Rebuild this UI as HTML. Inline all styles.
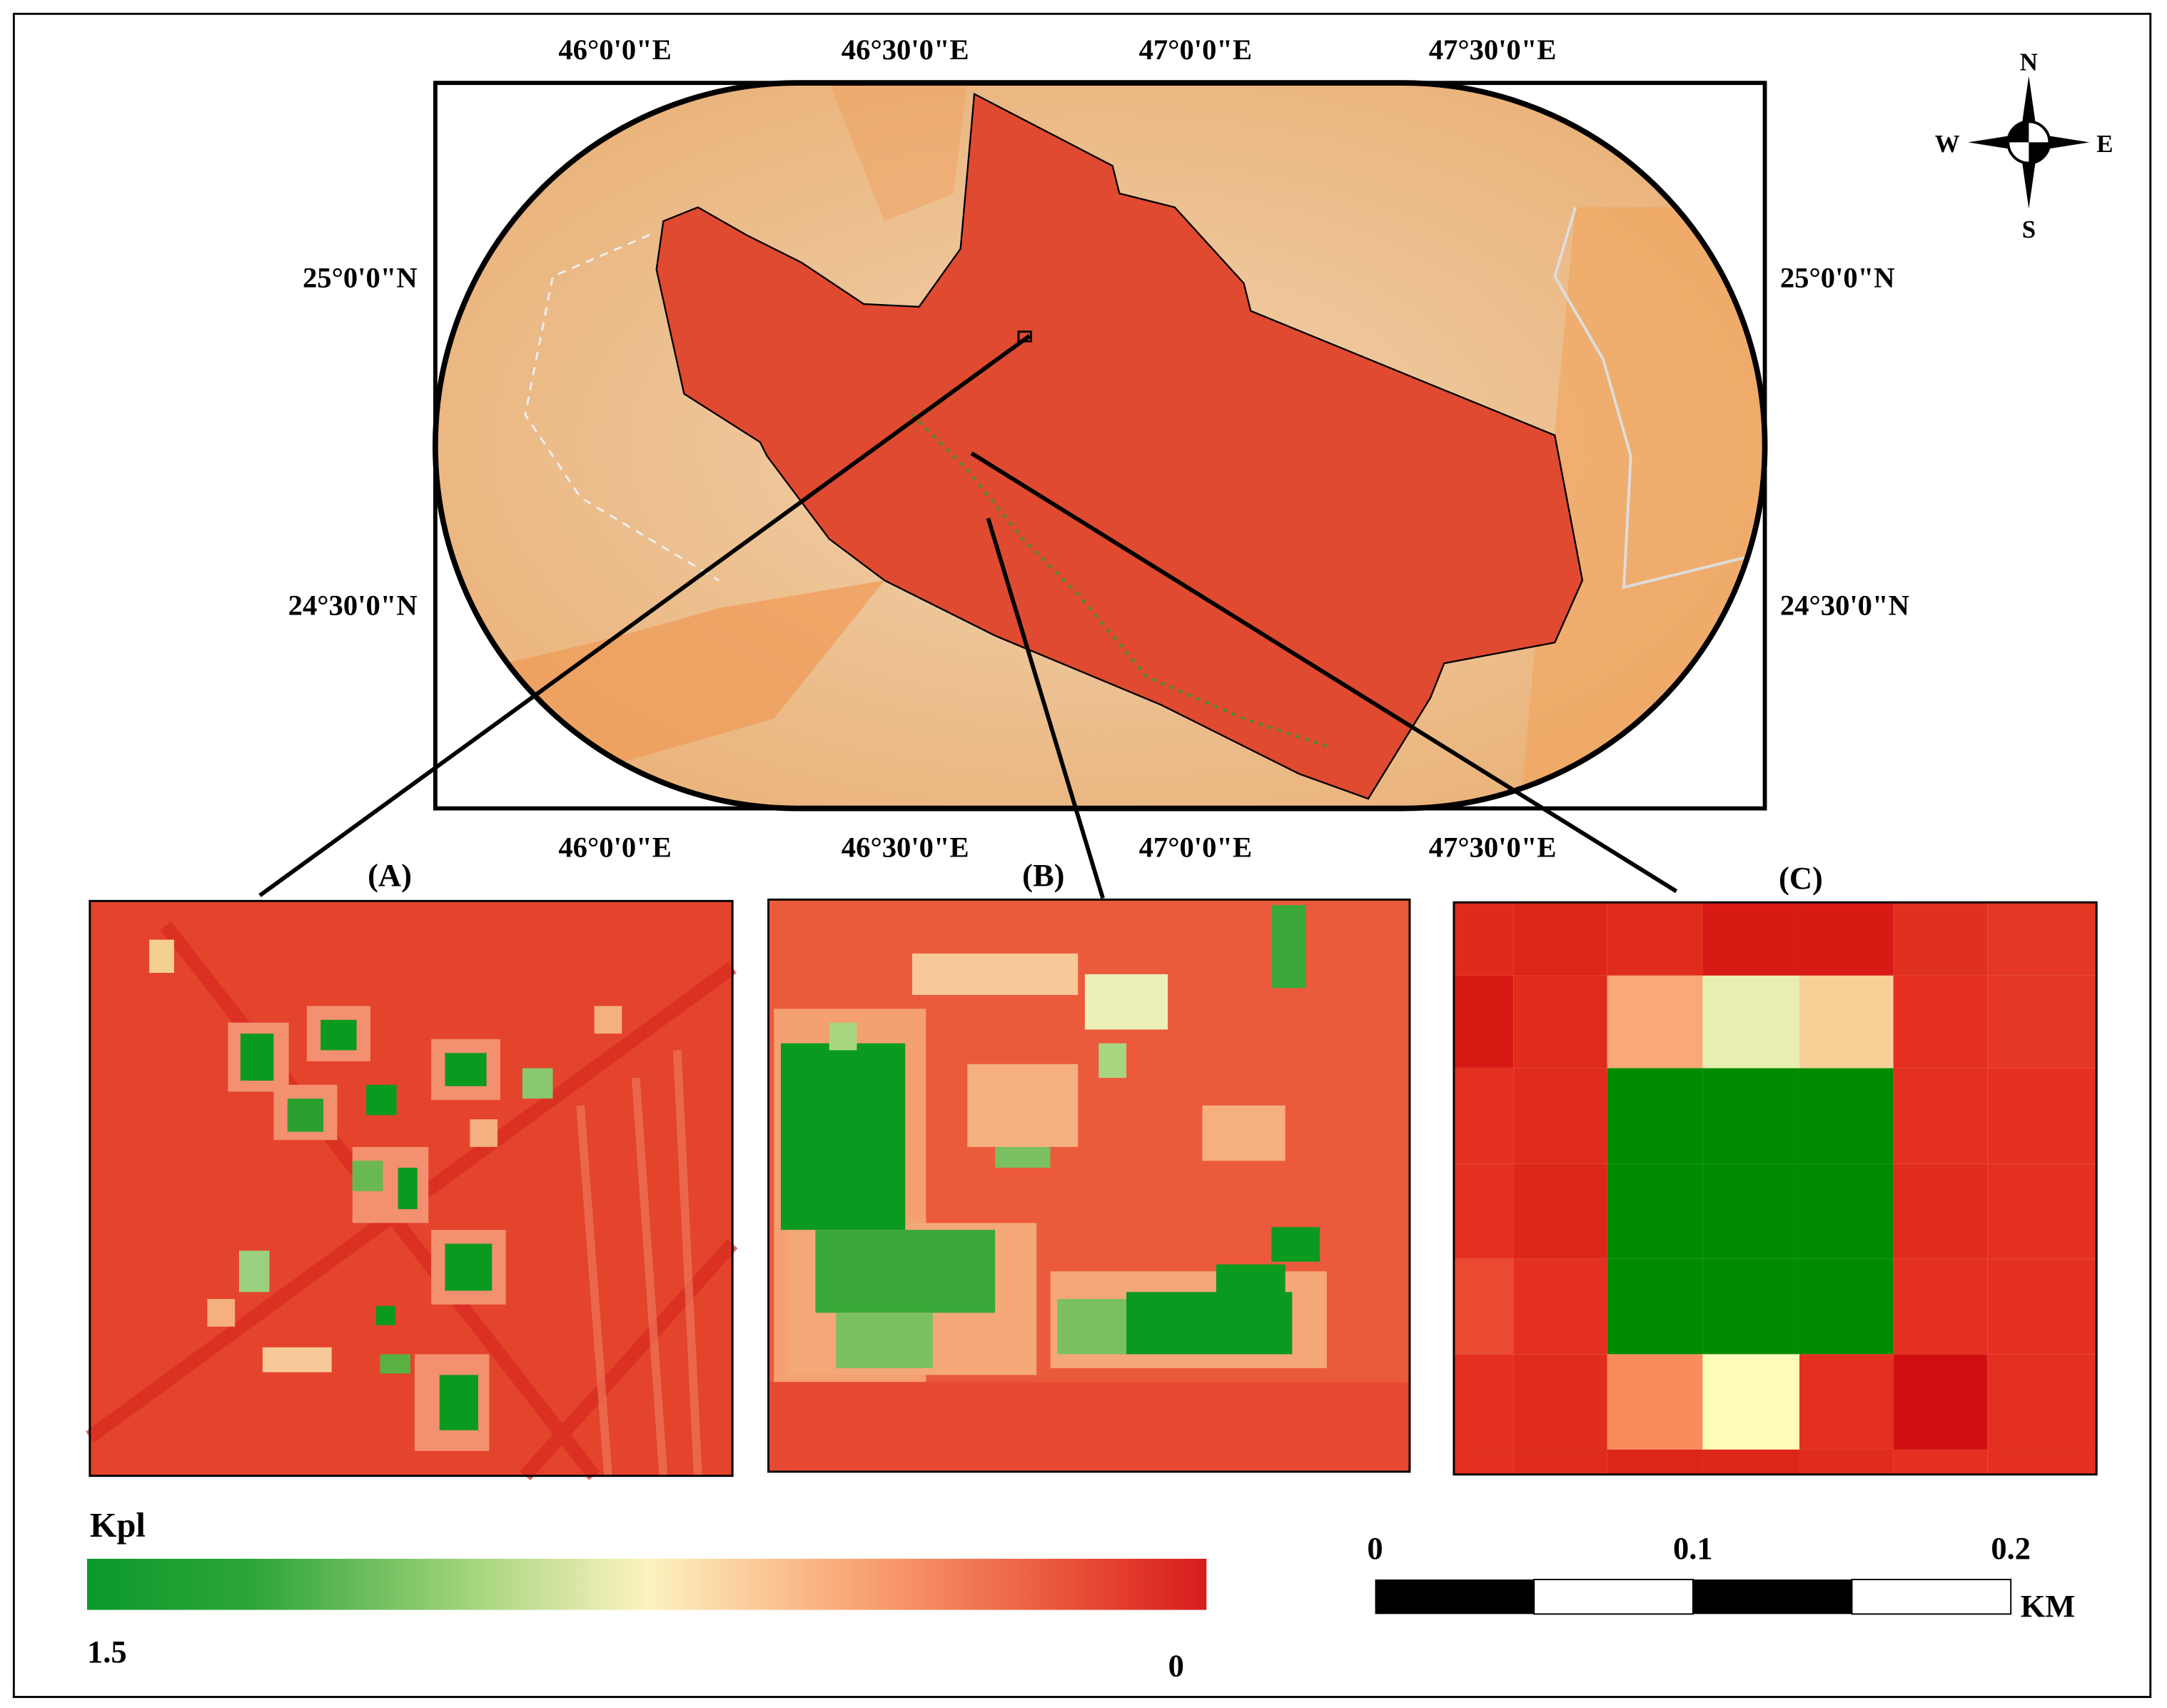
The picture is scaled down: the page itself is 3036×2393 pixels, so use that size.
<!DOCTYPE html>
<html><head><meta charset="utf-8"><style>
html,body{margin:0;padding:0;background:#fff}
svg{display:block}
text{font-family:"Liberation Serif",serif;font-weight:bold;fill:#000}
</style></head><body>
<svg width="3036" height="2393" viewBox="0 0 1568 1236" preserveAspectRatio="none">
<defs>
<linearGradient id="kpl" x1="0" x2="1" y1="0" y2="0">
<stop offset="0" stop-color="#0a9a2a"/><stop offset="0.15" stop-color="#2fa53a"/>
<stop offset="0.35" stop-color="#a8d680"/><stop offset="0.5" stop-color="#fdf3c0"/>
<stop offset="0.7" stop-color="#f9a070"/><stop offset="0.88" stop-color="#e85038"/>
<stop offset="1" stop-color="#d81c1c"/></linearGradient>
<radialGradient id="sand" cx="0.5" cy="0.5" r="0.7">
<stop offset="0" stop-color="#f0d3ae"/><stop offset="1" stop-color="#e9ac70"/></radialGradient>
<clipPath id="pill"><rect x="315" y="60" width="962" height="525" rx="262" ry="262"/></clipPath>
</defs>
<rect x="10" y="10" width="1546" height="1218" fill="none" stroke="#000" stroke-width="1.5"/>
<rect x="315" y="60" width="962" height="525" fill="#fff" stroke="#000" stroke-width="3"/>
<g clip-path="url(#pill)">
<rect x="315" y="60" width="962" height="525" fill="url(#sand)"/>
<path d="M315,490 Q420,470 520,440 L640,420 L560,520 L420,560 L315,560Z" fill="#ef9a55" opacity="0.7"/>
<path d="M1140,150 L1277,150 L1277,585 L1100,585Z" fill="#f2a45c" opacity="0.6"/>
<path d="M600,60 L700,60 L690,140 L640,160Z" fill="#f0a060" opacity="0.5"/>
<path d="M1140,150 L1125,200 L1160,260 L1180,330 L1175,425 L1277,400" fill="none" stroke="#ddd" stroke-width="2"/>
<path d="M470,170 L400,200 L380,300 L420,360 L520,420" fill="none" stroke="#eee" stroke-width="1.5" stroke-dasharray="6,5"/>
</g>
<polygon fill="#e04a30" stroke="#000" stroke-width="1.2"
points="480,160 505,150 540,170 580,190 625,220 665,222 695,180 705,68 805,120 810,140 850,150 900,205 905,225 1125,315 1145,420 1125,465 1045,480 1035,505 990,578 940,560 840,510 720,460 640,420 600,390 555,330 550,320 495,285 475,195"/>
<path d="M660,300 L700,340 L740,390 L780,430 L830,490 L900,520 L960,540" fill="none" stroke="#2a9a30" stroke-width="2" stroke-dasharray="3,4" opacity="0.8"/>
<rect x="315" y="60" width="962" height="525" rx="262" ry="262" fill="none" stroke="#000" stroke-width="4"/>
<g font-size="21">
<text x="445" y="43" text-anchor="middle">46°0'0"E</text><text x="655" y="43" text-anchor="middle">46°30'0"E</text>
<text x="865" y="43" text-anchor="middle">47°0'0"E</text><text x="1080" y="43" text-anchor="middle">47°30'0"E</text>
<text x="445" y="620" text-anchor="middle">46°0'0"E</text><text x="655" y="620" text-anchor="middle">46°30'0"E</text>
<text x="865" y="620" text-anchor="middle">47°0'0"E</text><text x="1080" y="620" text-anchor="middle">47°30'0"E</text>
<text x="302" y="208" text-anchor="end">25°0'0"N</text><text x="302" y="445" text-anchor="end">24°30'0"N</text>
<text x="1288" y="208">25°0'0"N</text><text x="1288" y="445">24°30'0"N</text>
</g>
<g stroke="#000" stroke-width="3">
<line x1="745" y1="243" x2="188" y2="648"/><line x1="715" y1="375" x2="798" y2="650"/><line x1="703" y1="328" x2="1213" y2="645"/>
</g>
<rect x="737" y="240" width="9" height="7" fill="none" stroke="#000" stroke-width="1.5"/>
<g font-size="23"><text x="282" y="641" text-anchor="middle">(A)</text>
<text x="755" y="641" text-anchor="middle">(B)</text>
<text x="1303" y="643" text-anchor="middle">(C)</text></g>
<g id="pa"><rect x="65" y="652" width="465" height="416" fill="#e4432c"/>
<path d="M65,1040 L530,700 M120,670 L430,1068 M380,1068 L530,900" stroke="#d82a20" stroke-width="10" opacity="0.7"/>
<path d="M420,800 L440,1068 M460,780 L480,1068 M490,760 L505,1068" stroke="#f08060" stroke-width="6" opacity="0.6"/></g>
<g id="pb"><rect x="556" y="651" width="464" height="414" fill="#ec5a3c"/>
<rect x="556" y="1000" width="464" height="65" fill="#e64a32"/></g>
<g id="pc"></g>
<rect x="65" y="652" width="465" height="416" fill="none" stroke="#000" stroke-width="1.5"/>
<rect x="556" y="651" width="464" height="414" fill="none" stroke="#000" stroke-width="1.5"/>
<rect x="1052" y="653" width="465" height="414" fill="none" stroke="#000" stroke-width="1.5"/>
<text x="65" y="1112" font-size="25">Kpl</text>
<rect x="63" y="1128" width="810" height="37" fill="url(#kpl)"/>
<text x="63" y="1203" font-size="23">1.5</text>
<text x="851" y="1213" font-size="23" text-anchor="middle">0</text>
<g>
<rect x="995" y="1143" width="115" height="25" fill="#000"/><rect x="1110" y="1143" width="115" height="25" fill="#fff" stroke="#000"/>
<rect x="1225" y="1143" width="115" height="25" fill="#000"/><rect x="1340" y="1143" width="115" height="25" fill="#fff" stroke="#000"/>
<text x="995" y="1128" font-size="23" text-anchor="middle">0</text><text x="1225" y="1128" font-size="23" text-anchor="middle">0.1</text>
<text x="1455" y="1128" font-size="23" text-anchor="middle">0.2</text><text x="1462" y="1170" font-size="23">KM</text></g>
<g transform="translate(1468,103)">
<polygon points="0,-48 6,-6 0,0 -6,-6" fill="#000"/><polygon points="0,48 6,6 0,0 -6,6" fill="#000"/>
<polygon points="-44,0 -6,-6 0,0 -6,6" fill="#000"/><polygon points="44,0 6,-6 0,0 6,6" fill="#000"/>
<circle r="15" fill="#fff" stroke="#000" stroke-width="2"/>
<path d="M0,0 L0,-15 A15,15 0 0 0 -15,0Z M0,0 L0,15 A15,15 0 0 0 15,0Z" fill="#000"/>
<text x="0" y="-52" font-size="18" text-anchor="middle">N</text><text x="0" y="69" font-size="18" text-anchor="middle">S</text>
<text x="-50" y="7" font-size="18" text-anchor="end">W</text><text x="49" y="7" font-size="18">E</text></g>
</svg>
<script>
var NS='http://www.w3.org/2000/svg';
var cCols=[1052,1095,1163,1232,1302,1370,1438,1517];
var cRows=[653,706,773,842,911,980,1049,1067];
var cColors=[
['#df2a1c','#dc2618','#e02c1c','#d81a14','#d81a14','#e03020','#e43824'],
['#d81a14','#e02c1c','#f9a878','#e8eeb0','#f9cf98','#e43020','#e43824'],
['#e43020','#e02c1c','#008c00','#008c00','#008c00','#e43020','#e43020'],
['#e43020','#dc2618','#008c00','#008c00','#008c00','#e02c1c','#e43020'],
['#ea4a30','#e43020','#008c00','#008c00','#008c00','#e43020','#e43020'],
['#e43020','#e02c1c','#f98c5c','#fdfbb8','#e43020','#d01010','#e43020'],
['#e43020','#e02c1c','#dc2618','#dc2618','#e02c1c','#e43020','#e43020']];
var pc=document.getElementById('pc');
for(var r=0;r<7;r++)for(var c=0;c<7;c++){var e=document.createElementNS(NS,'rect');
e.setAttribute('x',cCols[c]);e.setAttribute('y',cRows[r]);e.setAttribute('width',cCols[c+1]-cCols[c]);e.setAttribute('height',cRows[r+1]-cRows[r]);e.setAttribute('fill',cColors[r][c]);


pc.appendChild(e);}
var aPatches=[[165,740,44,50,'#f29070'],[222,728,46,40,'#f29070'],[312,752,50,44,'#f29070'],[198,785,46,40,'#f29070'],[255,830,55,55,'#f29070'],[312,890,54,54,'#f29070'],[300,980,54,70,'#f29070'],
[174,748,24,34,'#0a9a20'],[232,738,26,22,'#0a9a20'],[208,795,26,24,'#2aa030'],[265,785,22,22,'#0a9a20'],[322,762,30,24,'#0a9a20'],[378,773,22,22,'#8ac870'],[255,840,22,22,'#6ab850'],[288,845,14,30,'#0a9a20'],[322,900,34,34,'#0a9a20'],[173,905,22,30,'#9ad080'],[272,945,14,14,'#0a9a20'],[275,980,22,14,'#5ab040'],[318,995,28,40,'#0a9a20'],[108,680,18,24,'#f4d090'],[430,728,20,20,'#f4b080'],[190,975,50,18,'#f7c898'],[150,940,20,20,'#f6b080'],[340,810,20,20,'#f4b080']];
var bPatches=[[560,730,110,270,'#f4a070'],[570,885,180,110,'#f4a878'],[760,920,200,70,'#f4a878'],
[565,755,90,135,'#0a9a20'],[600,740,20,20,'#a8d680'],[590,890,130,60,'#3aa838'],[605,950,70,40,'#7ac060'],[720,825,40,20,'#7ac060'],[815,935,120,45,'#0a9a20'],[880,915,50,30,'#0a9a20'],[920,888,35,25,'#0a9a20'],[765,940,50,40,'#7ac060'],[785,705,60,40,'#eaf0b8'],[920,655,25,60,'#3aa838'],[795,755,20,25,'#a8d680'],[660,690,120,30,'#f7c898'],[700,770,80,60,'#f6b080'],[870,800,60,40,'#f6b080']];
function draw(id,arr,name){var g=document.getElementById(id);arr.forEach(function(p){var e=document.createElementNS(NS,'rect');
e.setAttribute('x',p[0]);e.setAttribute('y',p[1]);e.setAttribute('width',p[2]);e.setAttribute('height',p[3]);e.setAttribute('fill',p[4]);


g.appendChild(e);});}
draw('pa',aPatches,'panel-a-patch');draw('pb',bPatches,'panel-b-patch');
</script>
</body></html>
